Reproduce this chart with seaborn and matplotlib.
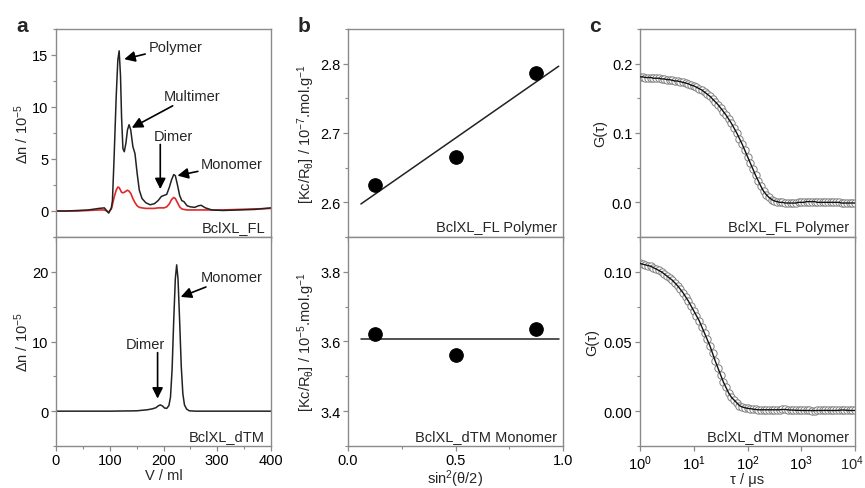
import numpy as np
import pandas as pd
import matplotlib
matplotlib.use("Agg")
import matplotlib.pyplot as plt
from matplotlib.ticker import MultipleLocator, NullLocator, LogLocator, FormatStrFormatter, FuncFormatter
import seaborn as sns

sns.set_style("ticks")
plt.rcParams['font.family'] = ['Liberation Sans', 'DejaVu Sans']
plt.rcParams['mathtext.fontset'] = 'custom'
plt.rcParams['mathtext.rm'] = 'Liberation Sans'
plt.rcParams['mathtext.it'] = 'Liberation Sans'
plt.rcParams['mathtext.bf'] = 'Liberation Sans:bold'

# ---------------- data: panel a (SEC traces) ----------------
V_fl = [0, 20, 40, 60, 80, 90, 98, 103, 105, 108, 112, 115, 117.5, 120, 122, 124.5, 127,
        130, 133, 136, 139, 143, 147, 151, 155, 160, 167, 175, 183, 190, 196, 201, 206,
        211, 215, 219, 222, 226, 230, 234, 238, 244, 250, 258, 265, 270, 278, 290, 310,
        340, 370, 400]
dn_fl_black = [0, 0, 0.05, 0.1, 0.25, 0.3, -0.2, 0.3, 1.0, 5.0, 11.0, 14.5, 15.4, 13.0, 9.0,
               6.0, 5.7, 6.5, 7.8, 8.3, 7.8, 6.2, 5.5, 3.6, 2.0, 1.2, 0.8, 0.6, 0.7, 1.0,
               1.4, 1.5, 1.6, 2.3, 3.0, 3.5, 3.4, 2.5, 1.5, 1.0, 0.9, 0.5, 0.4, 0.35, 0.5,
               0.55, 0.3, 0.1, 0.05, 0.1, 0.15, 0.3]
dn_fl_red = [0, 0, 0, 0.05, 0.1, 0.1, -0.1, 0.2, 0.6, 1.3, 2.0, 2.3, 2.25, 2.0, 1.8, 1.75,
             1.8, 1.9, 2.0, 1.9, 1.7, 1.2, 0.8, 0.5, 0.35, 0.3, 0.25, 0.25, 0.25, 0.3,
             0.3, 0.3, 0.4, 0.7, 1.1, 1.3, 1.2, 0.8, 0.4, 0.2, 0.15, 0.1, 0.1, 0.1, 0.1,
             0.1, 0.1, 0.1, 0.1, 0.15, 0.2, 0.25]

V_dtm = [0, 50, 100, 150, 170, 180, 186, 190, 194, 198, 202, 206, 210, 213, 216, 219, 222,
         224.5, 227, 230, 233, 236, 239, 243, 248, 260, 300, 350, 400]
dn_dtm = [0, 0, 0, 0.05, 0.2, 0.35, 0.5, 0.75, 0.9, 0.75, 0.45, 0.4, 0.8, 2.0, 6.0, 13.0,
          19.0, 21.0, 19.0, 13.0, 6.5, 2.5, 0.9, 0.3, 0.05, 0, 0, 0, 0]

# ---------------- data: panel b (Zimm) ----------------
sin2 = [0.125, 0.5, 0.875]
kc_fl = [2.625, 2.666, 2.787]
kc_dtm = [3.621, 3.562, 3.635]

# ---------------- data: panel c (correlation) ----------------
tau_us = [1, 1.122, 1.259, 1.413, 1.585, 1.778, 1.995, 2.239, 2.512, 2.818,
          3.162, 3.548, 3.981, 4.467, 5.012, 5.623, 6.310, 7.079, 7.943, 8.913,
          10, 11.22, 12.59, 14.13, 15.85, 17.78, 19.95, 22.39, 25.12, 28.18,
          31.62, 35.48, 39.81, 44.67, 50.12, 56.23, 63.10, 70.79, 79.43, 89.13,
          100, 112.2, 125.9, 141.3, 158.5, 177.8, 199.5, 223.9, 251.2, 281.8,
          316.2, 354.8, 398.1, 446.7, 501.2, 562.3, 631.0, 707.9, 794.3, 891.3,
          1000, 1122, 1259, 1413, 1585, 1778, 1995, 2239, 2512, 2818,
          3162, 3548, 3981, 4467, 5012, 5623, 6310, 7079, 7943, 8913, 10000]
g_fl = [0.181, 0.181, 0.180, 0.180, 0.180, 0.179, 0.179, 0.179, 0.178, 0.178,
        0.177, 0.177, 0.176, 0.175, 0.175, 0.174, 0.173, 0.172, 0.171, 0.169,
        0.168, 0.166, 0.164, 0.162, 0.159, 0.156, 0.153, 0.149, 0.145, 0.141,
        0.136, 0.131, 0.126, 0.120, 0.114, 0.107, 0.100, 0.092, 0.084, 0.075,
        0.066, 0.057, 0.048, 0.039, 0.031, 0.023, 0.016, 0.011, 0.007, 0.004,
        0.002, 0.001, 0.000, 0.000, -0.001, -0.001, -0.001, -0.001, -0.001, 0.000,
        0.000, 0.000, 0.001, 0.001, 0.001, 0.001, 0.000, 0.000, 0.000, 0.000,
        0.000, 0.000, 0.000, 0.000, 0.000, -0.001, -0.001, -0.001, -0.001, -0.001, -0.001]
g_dtm = [0.106, 0.1055, 0.105, 0.1045, 0.104, 0.103, 0.102, 0.101, 0.100, 0.0985,
         0.097, 0.0955, 0.094, 0.092, 0.090, 0.0875, 0.085, 0.082, 0.079, 0.0755,
         0.072, 0.0685, 0.065, 0.0605, 0.056, 0.0515, 0.047, 0.0415, 0.036, 0.031,
         0.026, 0.021, 0.017, 0.013, 0.010, 0.008, 0.006, 0.004, 0.003, 0.0025,
         0.002, 0.0018, 0.0015, 0.0012, 0.001, 0.001, 0.001, 0.001, 0.001, 0.001,
         0.001, 0.001, 0.001, 0.0012, 0.0012, 0.001, 0.0008, 0.0008, 0.0006, 0.0006,
         0.0005, 0.0005, 0.0005, 0.0005, 0.0004, 0.0004, 0.0005, 0.0005, 0.0005, 0.0006,
         0.0005, 0.0005, 0.0005, 0.0005, 0.0006, 0.0008, 0.0008, 0.0006, 0.0005, 0.0005, 0.0005]

corner_fl = ["BclXL_FL", "BclXL_FL Polymer", "BclXL_FL Polymer"]
corner_dtm = ["BclXL_dTM", "BclXL_dTM Monomer", "BclXL_dTM Monomer"]

# ---------------- figure ----------------
W, H = 865, 489
fig = plt.figure(figsize=(W / 100, H / 100), dpi=100)

def fax(x0, y0, x1, y1):
    return fig.add_axes([x0 / W, 1 - y1 / H, (x1 - x0) / W, (y1 - y0) / H])

lefts = [56, 348, 640]
width = 215
tops = []
bots = []
for l in lefts:
    tops.append(fax(l, 30, l + width, 238))
    bots.append(fax(l, 238, l + width, 447))

FS = 10.5
SPINE = '#8a8a8a'
for ax in tops + bots:
    for s in ax.spines.values():
        s.set_color(SPINE)
        s.set_linewidth(1.0)
    ax.tick_params(which='both', direction='out', color=SPINE, labelsize=FS,
                   labelcolor='black', top=False, right=False)
    ax.tick_params(which='major', length=3.5, width=0.9)
    ax.tick_params(which='minor', length=2.2, width=0.8)
    ax.tick_params(axis='y', which='both', pad=2)
    ax.tick_params(axis='x', which='both', pad=1.5)
for ax in tops:
    ax.tick_params(labelbottom=False)

# ----- panel a -----
axa, axa2 = tops[0], bots[0]
df_fl = pd.DataFrame({'V': V_fl, 'black': dn_fl_black, 'red': dn_fl_red})
sns.lineplot(data=df_fl, x='V', y='red', ax=axa, color='#e02828', lw=1.2)
sns.lineplot(data=df_fl, x='V', y='black', ax=axa, color='#222222', lw=1.1)
axa.set_xlim(0, 400); axa.set_ylim(-2.5, 17.5)
axa.yaxis.set_major_locator(MultipleLocator(5)); axa.yaxis.set_minor_locator(MultipleLocator(2.5))
axa.xaxis.set_major_locator(MultipleLocator(100)); axa.xaxis.set_minor_locator(MultipleLocator(50))

df_dtm = pd.DataFrame({'V': V_dtm, 'dn': dn_dtm})
sns.lineplot(data=df_dtm, x='V', y='dn', ax=axa2, color='#222222', lw=1.1)
axa2.set_xlim(0, 400); axa2.set_ylim(-5, 25)
axa2.yaxis.set_major_locator(MultipleLocator(10)); axa2.yaxis.set_minor_locator(MultipleLocator(5))
axa2.xaxis.set_major_locator(MultipleLocator(100)); axa2.xaxis.set_minor_locator(MultipleLocator(50))

for ax in (axa, axa2):
    ax.set_ylabel('Δn / 10$^{-5}$', fontsize=FS, labelpad=1)
    ax.set_xlabel('')
axa2.set_xlabel('V / ml', fontsize=FS, labelpad=1)

arrow = dict(arrowstyle='-|>', color='black', lw=1.2, mutation_scale=16, shrinkA=0, shrinkB=0)
axa.annotate('Polymer', xy=(127, 14.6), xytext=(172, 15.8), fontsize=FS, ha='left', va='center', arrowprops=arrow)
axa.annotate('Multimer', xy=(141, 8.0), xytext=(200, 11.1), fontsize=FS, ha='left', va='center', arrowprops=arrow)
axa.annotate('', xy=(194, 2.1), xytext=(194, 6.4), arrowprops=arrow)
axa.text(219, 7.2, 'Dimer', fontsize=FS, ha='center', va='center')
axa.annotate('Monomer', xy=(226, 3.4), xytext=(270, 4.5), fontsize=FS, ha='left', va='center', arrowprops=arrow)

axa2.annotate('Monomer', xy=(232, 16.4), xytext=(270, 19.3), fontsize=FS, ha='left', va='center', arrowprops=arrow)
axa2.annotate('', xy=(189, 1.8), xytext=(189, 8.4), arrowprops=arrow)
axa2.text(167, 9.7, 'Dimer', fontsize=FS, ha='center', va='center')

# ----- panel b -----
axb, axb2 = tops[1], bots[1]
df_b = pd.DataFrame({'x': sin2, 'fl': kc_fl, 'dtm': kc_dtm})
fit_x = np.array([0.06, 0.98])
p = np.polyfit(sin2, kc_fl, 1)
sns.lineplot(x=fit_x, y=np.polyval(p, fit_x), ax=axb, color='#222222', lw=1.1)
sns.scatterplot(data=df_b, x='x', y='fl', ax=axb, color='black', s=95, edgecolor='black', zorder=3)
axb.set_ylim(2.55, 2.85)
axb.yaxis.set_major_locator(MultipleLocator(0.1)); axb.yaxis.set_minor_locator(MultipleLocator(0.05))

mean_dtm = np.mean(kc_dtm)
sns.lineplot(x=fit_x, y=[mean_dtm, mean_dtm], ax=axb2, color='#222222', lw=1.1)
sns.scatterplot(data=df_b, x='x', y='dtm', ax=axb2, color='black', s=95, edgecolor='black', zorder=3)
axb2.set_ylim(3.3, 3.9)
axb2.yaxis.set_major_locator(MultipleLocator(0.2)); axb2.yaxis.set_minor_locator(MultipleLocator(0.1))
for ax in (axb, axb2):
    ax.set_xlim(0, 1)
    ax.xaxis.set_major_locator(MultipleLocator(0.5)); ax.xaxis.set_minor_locator(MultipleLocator(0.25))
    ax.set_xlabel('')
axb.set_ylabel('[Kc/R$_{θ}$] / 10$^{-7}$.mol.g$^{-1}$', fontsize=FS, labelpad=2)
axb2.set_ylabel('[Kc/R$_{θ}$] / 10$^{-5}$.mol.g$^{-1}$', fontsize=FS, labelpad=2)
axb2.set_xlabel('sin$^{2}$(θ/2)', fontsize=FS, labelpad=0)
axb.yaxis.set_major_formatter(FormatStrFormatter('%.1f'))
axb2.yaxis.set_major_formatter(FormatStrFormatter('%.1f'))
axb2.xaxis.set_major_formatter(FormatStrFormatter('%.1f'))

# ----- panel c -----
axc, axc2 = tops[2], bots[2]
df_c = pd.DataFrame({'tau': tau_us, 'fl': g_fl, 'dtm': g_dtm})
for ax, col in ((axc, 'fl'), (axc2, 'dtm')):
    ax.set_xscale('log')
    sns.scatterplot(data=df_c, x='tau', y=col, ax=ax, marker='o', s=28,
                    facecolor='white', edgecolor='#808080', linewidth=0.7, zorder=2)
    sns.lineplot(data=df_c, x='tau', y=col, ax=ax, color='#111111', lw=1.0, zorder=3)
    ax.set_xlim(1, 1e4)
    ax.xaxis.set_major_locator(LogLocator(base=10, numticks=10))
    ax.xaxis.set_minor_locator(NullLocator())
    ax.set_ylabel('G(τ)', fontsize=FS, labelpad=3)
    ax.set_xlabel('')
axc.set_ylim(-0.05, 0.25)
axc.yaxis.set_major_locator(MultipleLocator(0.1)); axc.yaxis.set_minor_locator(MultipleLocator(0.05))
axc.yaxis.set_major_formatter(FormatStrFormatter('%.1f'))
axc2.set_ylim(-0.025, 0.125)
axc2.yaxis.set_major_locator(MultipleLocator(0.05)); axc2.yaxis.set_minor_locator(MultipleLocator(0.025))
axc2.yaxis.set_major_formatter(FormatStrFormatter('%.2f'))
axc2.set_xlabel('τ / μs', fontsize=FS, labelpad=0)

# log tick labels; the last one (10^4) is drawn right-aligned so it stays inside the figure
def log_fmt(v, pos):
    e = int(round(np.log10(v)))
    return '' if e >= 4 else '10$^{%d}$' % e
axc2.xaxis.set_major_formatter(FuncFormatter(log_fmt))
axc2.annotate('10$^{4}$', xy=(1, 0), xycoords='axes fraction', xytext=(6.3, -5),
              textcoords='offset points', ha='right', va='top', fontsize=FS)

# corner labels
for ax, t in zip(tops, corner_fl):
    ax.text(0.972, 0.028, t, transform=ax.transAxes, ha='right', va='baseline', fontsize=FS)
for ax, t in zip(bots, corner_dtm):
    ax.text(0.972, 0.028, t, transform=ax.transAxes, ha='right', va='baseline', fontsize=FS)

# panel letters
for x, t in ((16, 'a'), (298, 'b'), (589, 'c')):
    fig.text(x / W, 1 - 32 / H, t, fontsize=15, fontweight='bold', ha='left', va='baseline')

fig.savefig('out.png', dpi=100)
